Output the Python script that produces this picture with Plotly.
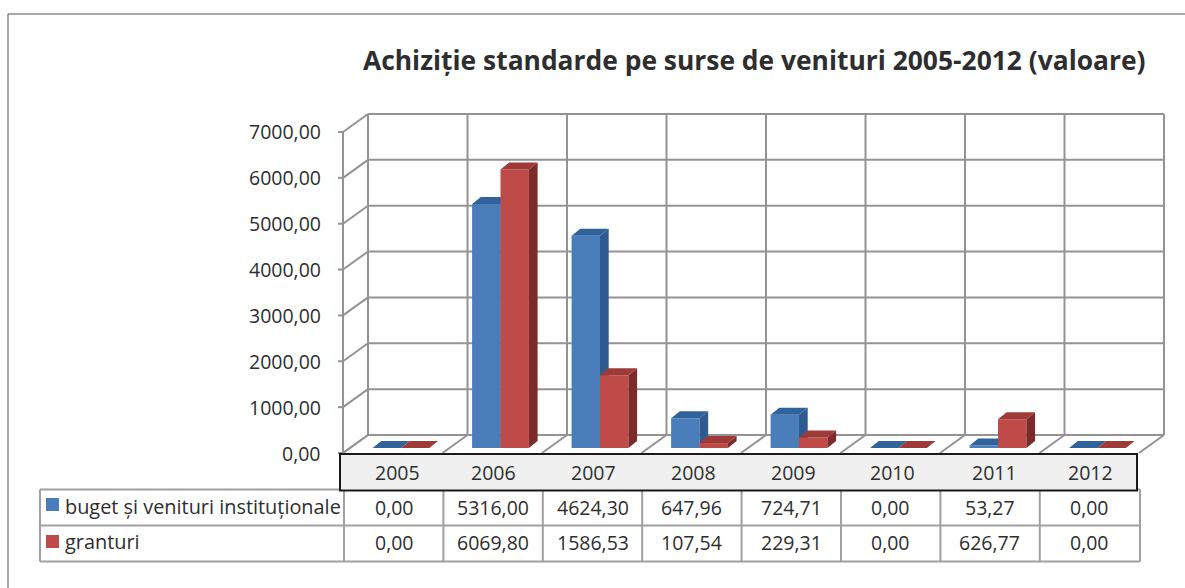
import plotly.graph_objects as go

years = ["2005", "2006", "2007", "2008", "2009", "2010", "2011", "2012"]
buget = [0.00, 5316.00, 4624.30, 647.96, 724.71, 0.00, 53.27, 0.00]
granturi = [0.00, 6069.80, 1586.53, 107.54, 229.31, 0.00, 626.77, 0.00]
series_names = ["buget și venituri instituționale", "granturi"]
axis_ticks = [0, 1000, 2000, 3000, 4000, 5000, 6000, 7000]
title = "Achiziție standarde pe surse de venituri 2005-2012 (valoare)"


def fmt(v):
    return f"{v:.2f}".replace(".", ",")


W, H = 1185, 588
BASE_PY = 448
PX_PER_UNIT = 45.9 / 1000
CAT0_PX = 401
CAT_PX = 99.5
BAR_W = 28.4 / CAT_PX
DX = 8.7 / CAT_PX
DV = 7 / PX_PER_UNIT


def x_of(px):
    return (px - CAT0_PX) / CAT_PX


def y_of(py):
    return (BASE_PY - py) / PX_PER_UNIT


def faces(values, off):
    sx, sy, tx, ty = [], [], [], []
    for i, v in enumerate(values):
        x0 = i + off
        x1 = x0 + BAR_W
        tx += [x0, x1, x1 + DX, x0 + DX, x0, None]
        ty += [v, v, v + DV, v + DV, v, None]
        if v > 0:
            sx += [x1, x1 + DX, x1 + DX, x1, x1, None]
            sy += [0, DV, v + DV, v, 0, None]
    return sx, sy, tx, ty


fig = go.Figure()
cols = list(range(len(years)))


def add_series(name, values, off, front, side, top, xa, ya):
    fig.add_trace(go.Bar(x=cols, y=values, name=name, offset=off, width=BAR_W, marker=dict(color=front, line=dict(width=0)), xaxis=xa, yaxis=ya))
    sx, sy, tx, ty = faces(values, off)
    fig.add_trace(go.Scatter(x=sx, y=sy, mode="lines", fill="toself", fillcolor=side, line=dict(width=0), xaxis=xa, yaxis=ya, hoverinfo="skip"))
    fig.add_trace(go.Scatter(x=tx, y=ty, mode="lines", fill="toself", fillcolor=top, line=dict(width=0), xaxis=xa, yaxis=ya, hoverinfo="skip"))


add_series(series_names[0], buget, -BAR_W, "#4a7ebb", "#2f5a8f", "#30639c", "x", "y")
add_series(series_names[1], granturi, 0, "#be4b48", "#7d2b2a", "#9f3a38", "x2", "y2")

GRID = dict(color="#939393", width=2)
shapes = []


def line(x0, y0, x1, y1, ln=GRID, layer="below"):
    shapes.append(dict(type="line", xref="x", yref="y", x0=x_of(x0), y0=y_of(y0), x1=x_of(x1), y1=y_of(y1), line=ln, layer=layer))


FRONT_X, BACK_X = 343, 368
FRONT_Y0, BACK_Y0 = 453, 435
TICK_PX = 45.86
for t in axis_ticks:
    d = t / 1000 * TICK_PX
    line(BACK_X, BACK_Y0 - d, BACK_X + CAT_PX * 8, BACK_Y0 - d)
    line(FRONT_X, FRONT_Y0 - d, BACK_X, BACK_Y0 - d)
    line(FRONT_X - 5, FRONT_Y0 - d, FRONT_X, FRONT_Y0 - d)
top_d = axis_ticks[-1] / 1000 * TICK_PX
line(FRONT_X, FRONT_Y0, FRONT_X, FRONT_Y0 - top_d)
for i in range(len(years) + 1):
    bx = BACK_X + CAT_PX * i
    line(bx, BACK_Y0, bx, BACK_Y0 - top_d)
    line(FRONT_X + CAT_PX * i, FRONT_Y0, bx, BACK_Y0)


def p(px, py):
    return px / W, 1 - py / H


def paper_rect(x0, y0, x1, y1, **kw):
    a, b = p(x0, y0)
    c, d = p(x1, y1)
    shapes.append(dict(type="rect", xref="paper", yref="paper", x0=a, y0=b, x1=c, y1=d, **kw))


def paper_line(x0, y0, x1, y1, ln):
    a, b = p(x0, y0)
    c, d = p(x1, y1)
    shapes.append(dict(type="line", xref="paper", yref="paper", x0=a, y0=b, x1=c, y1=d, line=ln))


# outer chart frame
FRAME = dict(color="#8a8a8a", width=1.5)
paper_line(8, 14, W, 14, FRAME)
paper_line(8, 14, 8, H, FRAME)

# data table
TBL = dict(color="#a0a0a0", width=2)
T_X0, T_X1 = 40, 1140
T_R = [489.5, 525.5, 561.5]
C_X = [344 + 99.4 * i for i in range(9)]
C_X[-1] = T_X1
for ry in T_R:
    paper_line(T_X0, ry, T_X1, ry, TBL)
for cx in [T_X0] + C_X:
    paper_line(cx, T_R[0], cx, T_R[-1], TBL)
paper_rect(340, 454, 1137, 490.5, fillcolor="#f0f0f0", line=dict(color="#1a1a1a", width=2))
paper_rect(46, 498, 59, 511, fillcolor="#4a7ebb", line=dict(width=0))
paper_rect(46, 535, 59, 548, fillcolor="#be4b48", line=dict(width=0))

annotations = []
FONT = "Open Sans"
TXT = "#2e2e2e"


def text(px, py, s, size, anchor="center", bold=False):
    a, b = p(px, py)
    annotations.append(dict(xref="paper", yref="paper", x=a, y=b, text=f"<b>{s}</b>" if bold else s, showarrow=False, xanchor=anchor, yanchor="middle", font=dict(family=FONT, size=size, color=TXT)))


text(754, 60, title, 26.4, bold=True)
for t in axis_ticks:
    text(323, FRONT_Y0 - t / 1000 * TICK_PX, fmt(t), 19.5, anchor="right")
HEADER_X = [397, 493, 593, 693, 793, 893, 994, 1090]
for hx, y in zip(HEADER_X, years):
    text(hx, 472.5, y, 19.5)
for i in range(len(years)):
    cx = 394 + 99.3 * i
    text(cx, 507, fmt(buget[i]), 19.5)
    text(cx, 542, fmt(granturi[i]), 19.5)
text(63, 506.5, series_names[0], 19.9, anchor="left")
text(63, 541.5, series_names[1], 19.9, anchor="left")

xr = [x_of(0), x_of(W)]
yr = [y_of(H), y_of(0)]
hidden = dict(visible=False, showgrid=False, zeroline=False, fixedrange=True)
fig.update_layout(
    width=W, height=H, margin=dict(l=0, r=0, t=0, b=0), showlegend=False,
    paper_bgcolor="white", plot_bgcolor="white", shapes=shapes, annotations=annotations,
    xaxis=dict(range=xr, **hidden), yaxis=dict(range=yr, **hidden),
    xaxis2=dict(range=xr, overlaying="x", **hidden), yaxis2=dict(range=yr, overlaying="y", **hidden),
)
fig.write_html("out.html", config=dict(displayModeBar=False), post_script="document.body.style.margin='0';document.body.style.overflow='hidden';")
